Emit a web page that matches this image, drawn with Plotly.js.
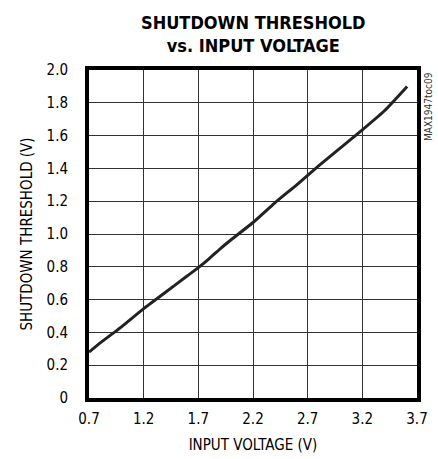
<!DOCTYPE html>
<html>
<head>
<meta charset="utf-8">
<script src="https://cdn.plot.ly/plotly-3.0.1.min.js"></script>
<style>html,body{margin:0;padding:0;background:#fff;}#chart{width:438px;height:459px;}</style>
</head>
<body>
<div id="chart"></div>
<script>
const inputVoltage = [0.7, 0.8, 0.9, 1.0, 1.2, 1.4, 1.6, 1.7, 1.8, 1.9, 2.0, 2.2, 2.4, 2.6, 2.8, 3.0, 3.2, 3.4, 3.61];
const shutdownThreshold = [0.28, 0.335, 0.385, 0.435, 0.545, 0.645, 0.745, 0.795, 0.85, 0.91, 0.965, 1.07, 1.19, 1.30, 1.415, 1.525, 1.635, 1.75, 1.90];
const xTickVals = [0.7, 1.2, 1.7, 2.2, 2.7, 3.2, 3.7];
const xTickText = ["0.7", "1.2", "1.7", "2.2", "2.7", "3.2", "3.7"];
const yTickVals = [0, 0.2, 0.4, 0.6, 0.8, 1.0, 1.2, 1.4, 1.6, 1.8, 2.0];
const yTickText = ["0", "0.2", "0.4", "0.6", "0.8", "1.0", "1.2", "1.4", "1.6", "1.8", "2.0"];

const narrow = "'Liberation Sans Narrow', 'DejaVu Sans Condensed', 'Arial Narrow', sans-serif";

const trace = {
  x: inputVoltage,
  y: shutdownThreshold,
  type: 'scatter',
  mode: 'lines',
  line: {color: '#222', width: 3, shape: 'spline', smoothing: 0.5},
  hoverinfo: 'none'
};

const layout = {
  width: 438,
  height: 459,
  margin: {l: 89, r: 21, t: 70, b: 61},
  paper_bgcolor: '#fff',
  plot_bgcolor: '#fff',
  showlegend: false,
  xaxis: {
    range: [0.7, 3.7],
    tickvals: xTickVals,
    ticktext: xTickText,
    showgrid: true,
    gridcolor: '#333',
    gridwidth: 1,
    showline: true,
    linecolor: '#000',
    linewidth: 4,
    mirror: true,
    ticks: 'outside',
    ticklen: 4,
    tickcolor: 'rgba(0,0,0,0)',
    zeroline: false,
    tickfont: {family: narrow, size: 15, color: '#000'},
    title: {text: 'INPUT VOLTAGE (V)', font: {family: narrow, size: 15, color: '#000'}, standoff: 13}
  },
  yaxis: {
    range: [0, 2.0],
    tickvals: yTickVals,
    ticktext: yTickText,
    showgrid: true,
    gridcolor: '#333',
    gridwidth: 1,
    showline: true,
    linecolor: '#000',
    linewidth: 4,
    mirror: true,
    ticks: 'outside',
    ticklen: 14,
    tickcolor: 'rgba(0,0,0,0)',
    zeroline: false,
    tickfont: {family: narrow, size: 15, color: '#000'},
    title: {text: 'SHUTDOWN THRESHOLD (V)', font: {family: narrow, size: 15, color: '#000'}, standoff: 11}
  },
  annotations: [{
    text: '<b>SHUTDOWN THRESHOLD<br>vs. INPUT VOLTAGE</b>',
    xref: 'paper', yref: 'paper',
    x: 0.5, y: 1.0,
    xanchor: 'center', yanchor: 'bottom',
    yshift: 12,
    showarrow: false,
    font: {family: narrow, size: 18, color: '#000'}
  }, {
    text: 'MAX1947toc09',
    xref: 'paper', yref: 'paper',
    x: 1.0, y: 1.0,
    xanchor: 'left', yanchor: 'top',
    xshift: 4,
    textangle: -90,
    showarrow: false,
    font: {family: narrow, size: 10, color: '#333'}
  }]
};

Plotly.newPlot('chart', [trace], layout, {displayModeBar: false, staticPlot: true});
</script>
</body>
</html>
